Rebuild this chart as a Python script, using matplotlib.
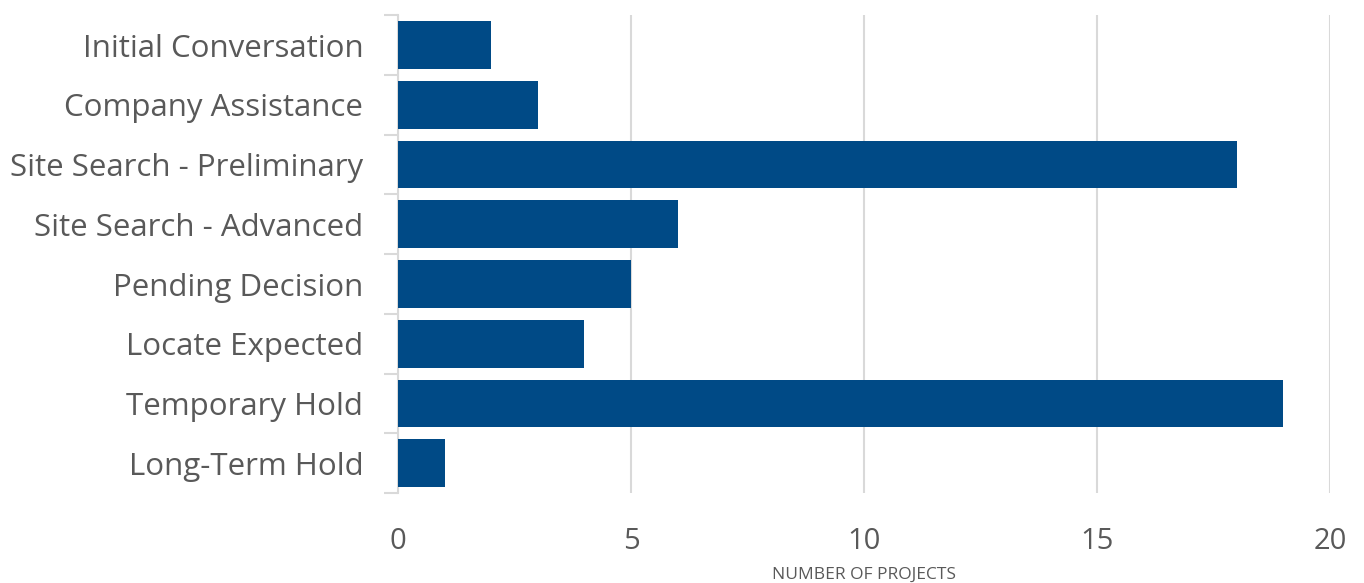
import matplotlib.pyplot as plt
import numpy as np

# Etapas y número de proyectos
etapas = ['Initial Conversation', 'Company Assistance', 'Site Search - Preliminary',
          'Site Search - Advanced', 'Pending Decision', 'Locate Expected',
          'Temporary Hold', 'Long-Term Hold']
proyectos = [2, 3, 18, 6, 5, 4, 19, 1]
xticks = [0, 5, 10, 15, 20]

plt.rcParams['font.family'] = ['Open Sans', 'DejaVu Sans']

fig = plt.figure(figsize=(13.64, 5.83), dpi=100)
ax = fig.add_axes([0.2918, 0.154, 0.6832, 0.82])

y = np.arange(len(etapas))
ax.barh(y, proyectos, height=0.8, color='#004A86', zorder=3)

ax.set_ylim(len(etapas) - 0.5, -0.5)
ax.set_xlim(0, 20)
ax.set_yticks(y)
ax.set_yticklabels(etapas)
ax.set_yticks(np.arange(len(etapas) + 1) - 0.5, minor=True)
ax.set_xticks(xticks)

ax.tick_params(axis='y', which='major', length=0, pad=25, labelsize=22.5, labelcolor='#595959')
ax.tick_params(axis='y', which='minor', length=10, color='#D9D9D9', width=1.5)
ax.tick_params(axis='x', length=0, pad=24, labelsize=21, labelcolor='#595959')

ax.grid(axis='x', color='#D9D9D9', linewidth=1.5, zorder=0)
for s in ['top', 'right', 'bottom']:
    ax.spines[s].set_visible(False)
ax.spines['left'].set_color('#D9D9D9')
ax.spines['left'].set_linewidth(1.5)

ax.set_xlabel('NUMBER OF PROJECTS', fontsize=12.5, color='#595959', labelpad=8)

fig.savefig('out.png', dpi=100)
